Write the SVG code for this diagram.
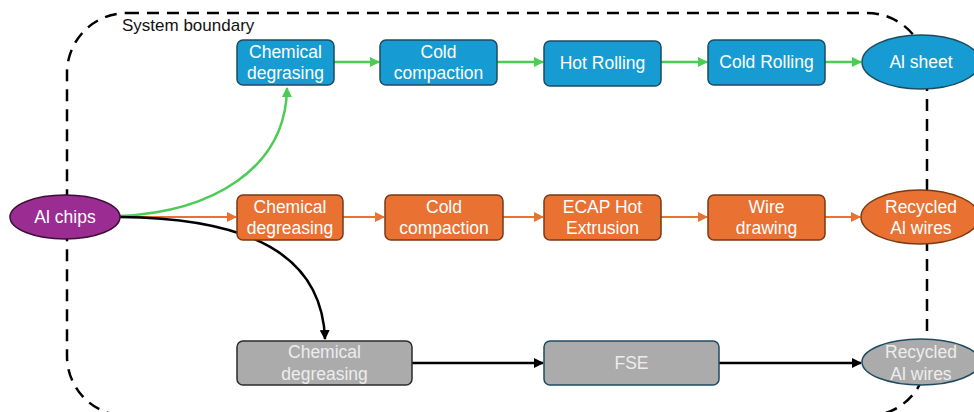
<svg xmlns="http://www.w3.org/2000/svg" width="974" height="412" viewBox="0 0 974 412">
<style>
text{font-family:"Liberation Sans",Arial,sans-serif;font-size:17.5px;text-anchor:middle;fill:#fff}
.blue{fill:#179BD3;stroke:#1E4B60;stroke-width:1.5}
.orange{fill:#E97132;stroke:#7A3A14;stroke-width:1.5}
.gray{fill:#ABABAB;stroke:#2B2B2B;stroke-width:1.5}
.gtext{fill:#EDEDED}
.g{stroke:#4CCB55;stroke-width:2.5;fill:none}
.o{stroke:#E97132;stroke-width:2;fill:none}
.k{stroke:#000;stroke-width:2.5;fill:none}
</style>
<defs>
<marker id="ag" viewBox="0 0 10 10" refX="9" refY="5" markerWidth="4" markerHeight="4" orient="auto" markerUnits="strokeWidth"><path d="M0,0L10,5L0,10z" fill="#4CCB55"/></marker>
<marker id="ao" viewBox="0 0 10 10" refX="9" refY="5" markerWidth="5" markerHeight="5" orient="auto" markerUnits="strokeWidth"><path d="M0,0L10,5L0,10z" fill="#E97132"/></marker>
<marker id="ak" viewBox="0 0 10 10" refX="9" refY="5" markerWidth="4" markerHeight="4" orient="auto" markerUnits="strokeWidth"><path d="M0,0L10,5L0,10z" fill="#000"/></marker>
</defs>
<rect id="boundary" x="67" y="13" width="860" height="403" rx="60" fill="none" stroke="#000" stroke-width="2.5" stroke-dasharray="12 8"/>
<text x="122" y="31" style="text-anchor:start;fill:#111;font-size:17px">System boundary</text>
<g id="connectors">
<path class="g" d="M120,216 C210,212 286,170 287,88" marker-end="url(#ag)"/>
<path class="g" d="M334,62H379" marker-end="url(#ag)"/>
<path class="g" d="M497,62H543" marker-end="url(#ag)"/>
<path class="g" d="M661,62H707" marker-end="url(#ag)"/>
<path class="g" d="M825,62H861" marker-end="url(#ag)"/>
<path class="o" d="M120,217H236" marker-end="url(#ao)"/>
<path class="o" d="M343,217H384" marker-end="url(#ao)"/>
<path class="o" d="M503,217H543" marker-end="url(#ao)"/>
<path class="o" d="M661,217H707" marker-end="url(#ao)"/>
<path class="o" d="M825,217H860" marker-end="url(#ao)"/>
<path class="k" d="M120,217 C250,218 322,255 325,339" marker-end="url(#ak)"/>
<path class="k" d="M412,363H543" marker-end="url(#ak)"/>
<path class="k" d="M719,363H861" marker-end="url(#ak)"/>
</g>
<g id="al-chips"><ellipse cx="65" cy="217" rx="55" ry="22" fill="#9B2C92" stroke="#3B0F38" stroke-width="1.5"/><text x="65" y="223">Al chips</text></g>
<g id="b1"><rect class="blue" x="237" y="40" width="97" height="45" rx="6"/><text x="285.5" y="58">Chemical</text><text x="285.5" y="79">degrasing</text></g>
<g id="b2"><rect class="blue" x="380" y="40" width="117" height="45" rx="6"/><text x="438.5" y="58">Cold</text><text x="438.5" y="79">compaction</text></g>
<g id="b3"><rect class="blue" x="544" y="41" width="117" height="45" rx="6"/><text x="602.5" y="69">Hot Rolling</text></g>
<g id="b4"><rect class="blue" x="708" y="40" width="117" height="45" rx="6"/><text x="766.5" y="68">Cold Rolling</text></g>
<g id="b5"><ellipse class="blue" cx="921" cy="62" rx="59" ry="27"/><text x="921" y="68">Al sheet</text></g>
<g id="o1"><rect class="orange" x="237" y="195" width="106" height="45" rx="6"/><text x="290" y="213">Chemical</text><text x="290" y="234">degreasing</text></g>
<g id="o2"><rect class="orange" x="385" y="195" width="118" height="45" rx="6"/><text x="444" y="213">Cold</text><text x="444" y="234">compaction</text></g>
<g id="o3"><rect class="orange" x="544" y="195" width="117" height="45" rx="6"/><text x="602.5" y="213">ECAP Hot</text><text x="602.5" y="234">Extrusion</text></g>
<g id="o4"><rect class="orange" x="708" y="195" width="117" height="45" rx="6"/><text x="766.5" y="213">Wire</text><text x="766.5" y="234">drawing</text></g>
<g id="o5"><ellipse class="orange" cx="920" cy="217" rx="59" ry="27"/><text x="921" y="213">Recycled</text><text x="921" y="234">Al wires</text></g>
<g id="g1"><rect class="gray" x="237" y="341" width="175" height="44" rx="6"/><text class="gtext" x="324.5" y="358">Chemical</text><text class="gtext" x="324.5" y="380">degreasing</text></g>
<g id="g2"><rect x="544" y="341" width="175" height="44" rx="6" fill="#ABABAB" stroke="#1E4B60" stroke-width="1.5"/><text class="gtext" x="631.5" y="369">FSE</text></g>
<g id="g3"><ellipse cx="921" cy="362" rx="59" ry="23" fill="#ABABAB" stroke="#1E4B60" stroke-width="1.5"/><text class="gtext" x="921" y="358">Recycled</text><text class="gtext" x="921" y="380">Al wires</text></g>
</svg>
